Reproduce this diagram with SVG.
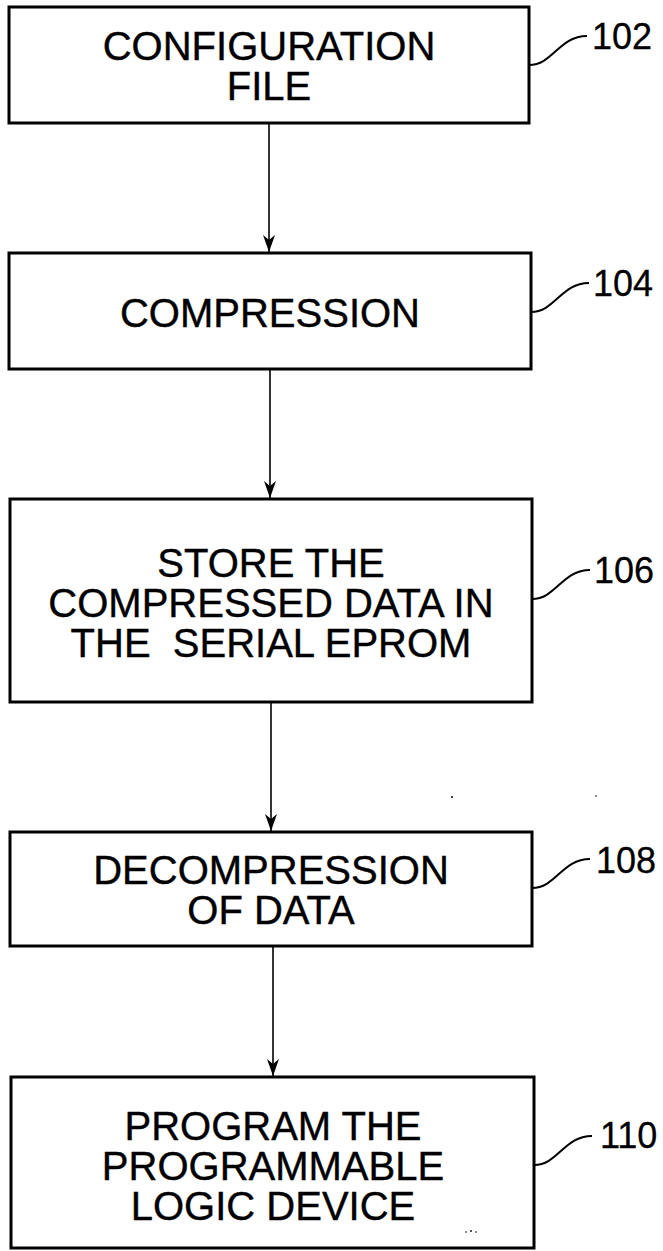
<svg xmlns="http://www.w3.org/2000/svg" width="663" height="1251" viewBox="0 0 663 1251">
<style>
.box{fill:#fff;stroke:#000;stroke-width:3}
.t{font-family:"Liberation Sans",Arial,sans-serif;font-size:40px;fill:#000;stroke:#000;stroke-width:0.4;text-anchor:middle;white-space:pre}
.n{font-family:"Liberation Sans",Arial,sans-serif;font-size:36px;fill:#000;stroke:#000;stroke-width:0.3}
.lead{fill:none;stroke:#000;stroke-width:2}
.conn{fill:none;stroke:#000;stroke-width:1.6}
</style>
<defs>
<marker id="ah" markerUnits="userSpaceOnUse" markerWidth="16" markerHeight="20" refX="0" refY="0" viewBox="-8 -19 16 20" orient="auto-start-reverse" overflow="visible">
<path d="M-6,-17 L0,0 L6,-17 L0,-12 Z" fill="#000" transform="rotate(-90)"/>
</marker>
</defs>
<rect width="663" height="1251" fill="#fff"/>
<g id="connectors">
<line class="conn" x1="269" y1="123" x2="269" y2="252" marker-end="url(#ah)"/>
<line class="conn" x1="270" y1="369" x2="270" y2="498" marker-end="url(#ah)"/>
<line class="conn" x1="271" y1="702" x2="271" y2="831" marker-end="url(#ah)"/>
<line class="conn" x1="273" y1="946" x2="273" y2="1076" marker-end="url(#ah)"/>
</g>
<g id="n102">
<rect class="box" x="9" y="7" width="520" height="116"/>
<text class="t" x="269" y="60">CONFIGURATION</text>
<text class="t" x="269" y="100">FILE</text>
<path class="lead" d="M529,65 C553,65 559,36 587,36"/>
<text class="n" x="592" y="49">102</text>
</g>
<g id="n104">
<rect class="box" x="9" y="253" width="522" height="116"/>
<text class="t" x="270" y="327">COMPRESSION</text>
<path class="lead" d="M531,312 C555,312 561,283 589,283"/>
<text class="n" x="593" y="296">104</text>
</g>
<g id="n106">
<rect class="box" x="10" y="499" width="522" height="203"/>
<text class="t" x="271" y="577">STORE THE</text>
<text class="t" x="271" y="617">COMPRESSED DATA IN</text>
<text class="t" x="271" y="657">THE  SERIAL EPROM</text>
<path class="lead" d="M532,599 C556,599 562,570 590,570"/>
<text class="n" x="594" y="583">106</text>
</g>
<g id="n108">
<rect class="box" x="10" y="832" width="522" height="114"/>
<text class="t" x="271" y="884">DECOMPRESSION</text>
<text class="t" x="271" y="924">OF DATA</text>
<path class="lead" d="M532,888 C556,888 562,859 590,859"/>
<text class="n" x="596" y="873">108</text>
</g>
<g id="n110">
<rect class="box" x="11" y="1077" width="523" height="171"/>
<text class="t" x="273" y="1140">PROGRAM THE</text>
<text class="t" x="273" y="1180">PROGRAMMABLE</text>
<text class="t" x="273" y="1220">LOGIC DEVICE</text>
<path class="lead" d="M534,1165 C558,1165 564,1136 592,1136"/>
<text class="n" x="600" y="1148">110</text>
</g>
<g id="specks" fill="#000">
<circle cx="452" cy="797" r="1"/>
<circle cx="596" cy="796" r="0.8"/>
<circle cx="466" cy="1232" r="0.8"/>
<circle cx="471" cy="1231" r="0.9"/>
<circle cx="476" cy="1232" r="0.8"/>
</g>
</svg>
